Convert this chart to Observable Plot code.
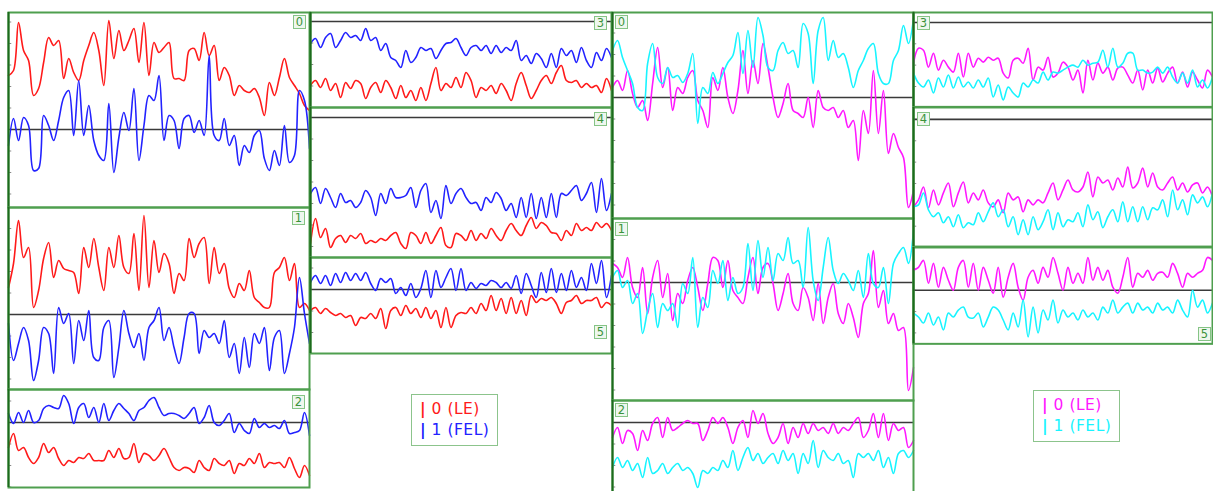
<!DOCTYPE html>
<html><head><meta charset="utf-8">
<script src="https://cdn.jsdelivr.net/npm/d3@7"></script>
<script src="https://cdn.jsdelivr.net/npm/@observablehq/plot@0.6"></script>
<style>
body{margin:0;overflow:hidden;background:#fff}
#root{position:relative;width:1213px;height:491px;overflow:hidden;font-family:"DejaVu Sans",Verdana,sans-serif;background:#fff}
.panel{position:absolute}
.panel svg{display:block;overflow:visible;background:transparent}
.lab{position:absolute;width:11px;height:12px;border:1px solid #86c486;background:#eef7ee;color:#3b933b;font-size:11.5px;line-height:12px;text-align:center}
.legend{position:absolute;border:1px solid #8cc48c;background:#fff;font-size:15.5px;line-height:21px;padding:4px 8px;white-space:pre;letter-spacing:0.5px}
.legend b{font-weight:bold}
</style></head>
<body><div id="root"></div>
<script>
// ---- series values (offset from the reference line) ----
const leftP0Red = [54,59,107,79,69,34,41,67,92,84,89,51,71,57,49,69,84,97,79,44,109,71,99,79,89,101,67,107,54,87,77,82,87,51,51,49,79,81,69,97,74,84,49,62,54,34,44,39,37,41,32,14,47,34,52,71,52,44,36,24,19];
const leftP0Blue = [-16,11,-11,12,4,-41,-39,14,4,-11,9,32,39,-6,49,-6,24,-11,-26,-31,26,-43,-8,17,-1,41,-31,4,34,29,54,-11,14,9,-19,11,14,-3,9,-6,74,-6,-11,11,-16,-6,-36,-16,-23,-6,-1,-29,-41,-21,-36,4,-33,-26,39,29,-19];
const leftP1Red = [27,51,94,57,67,7,24,56,72,37,54,46,44,42,21,67,47,76,47,24,67,47,79,47,41,81,24,99,27,74,42,61,51,21,41,34,76,57,71,77,31,67,41,51,26,17,31,24,44,17,12,7,7,42,47,57,34,51,7,11,4];
const leftP1Blue = [-9,-46,-29,-13,-26,-66,-46,-13,-19,-59,7,-9,1,-49,-6,-26,4,-43,-46,-13,-6,-63,-33,4,-19,-33,-19,-46,-13,-6,7,-26,-13,-33,-49,-23,1,1,-39,-16,-23,-19,-29,-6,-43,-29,-59,-23,-53,-19,-29,-13,-56,-23,-16,-59,-39,-13,37,1,-29];
const leftP2Red = [-25,-11,-28,-25,-35,-41,-35,-21,-30,-25,-36,-43,-38,-40,-35,-36,-31,-38,-38,-38,-28,-35,-26,-36,-35,-21,-40,-31,-33,-38,-33,-26,-35,-45,-48,-45,-46,-50,-38,-45,-48,-36,-41,-43,-38,-51,-41,-43,-36,-41,-31,-45,-40,-41,-40,-45,-35,-46,-55,-43,-53];
const leftP2Blue = [9,-1,10,0,12,0,2,14,17,15,14,27,19,-1,15,19,5,15,0,19,2,12,19,14,9,2,12,15,22,25,15,7,9,9,7,4,9,15,-1,5,17,0,-3,2,9,-10,-1,-8,-11,4,-5,-1,-5,-3,-6,2,-11,-10,-8,10,-13];
const leftP3Red = [-64,-59,-66,-57,-69,-62,-76,-61,-67,-59,-62,-77,-66,-61,-71,-59,-66,-77,-64,-76,-69,-79,-66,-79,-62,-46,-69,-62,-66,-56,-66,-51,-59,-76,-66,-69,-64,-72,-62,-69,-79,-62,-51,-64,-77,-69,-59,-54,-62,-51,-44,-59,-61,-59,-66,-62,-66,-64,-71,-57,-69];
const leftP3Blue = [-22,-17,-26,-16,-12,-26,-19,-11,-16,-14,-19,-7,-19,-16,-29,-22,-36,-39,-46,-29,-41,-36,-26,-29,-27,-37,-29,-22,-21,-17,-26,-34,-26,-24,-29,-24,-32,-24,-31,-26,-29,-19,-39,-34,-42,-32,-37,-46,-32,-46,-27,-34,-29,-41,-26,-39,-46,-31,-39,-27,-36];
const leftP4Red = [-126,-101,-120,-111,-130,-121,-118,-125,-118,-121,-116,-126,-123,-125,-121,-123,-118,-115,-126,-131,-115,-118,-126,-115,-126,-118,-110,-128,-130,-116,-118,-123,-113,-123,-116,-121,-111,-118,-123,-113,-106,-113,-118,-108,-100,-111,-105,-108,-115,-116,-123,-113,-118,-106,-113,-110,-113,-105,-110,-106,-113];
const leftP4Blue = [-76,-70,-86,-71,-80,-90,-76,-85,-83,-90,-85,-73,-80,-98,-76,-86,-71,-80,-80,-78,-70,-90,-73,-66,-95,-83,-101,-68,-86,-76,-71,-80,-86,-85,-93,-80,-85,-75,-81,-93,-86,-100,-80,-100,-76,-101,-80,-100,-76,-100,-76,-78,-73,-68,-83,-76,-65,-95,-61,-93,-76];
const leftP5Red = [-21,-18,-24,-19,-23,-26,-24,-28,-26,-36,-28,-29,-24,-29,-19,-39,-21,-18,-26,-16,-24,-19,-28,-18,-29,-21,-38,-18,-38,-26,-23,-24,-18,-24,-14,-21,-6,-21,-9,-24,-8,-24,-11,-26,-6,-13,-9,-11,-8,-14,-24,-13,-11,-6,-14,-11,-11,-8,-18,-13,-16];
const leftP5Blue = [7,14,6,14,4,16,7,17,9,16,9,17,6,-1,11,7,11,-4,2,-6,6,-8,1,19,-8,19,2,12,21,-1,21,-1,7,1,6,4,9,7,2,7,1,14,-4,16,4,-8,17,-3,21,-3,16,-1,19,2,12,-1,26,6,29,-8,14];

const rightP0Magenta = [10,17,7,27,4,-10,-3,-23,14,50,10,30,-13,10,4,20,27,-3,-13,-30,20,7,30,0,-16,7,47,4,37,14,54,30,0,-20,-6,14,-13,-16,-20,0,-30,7,-10,-13,-10,-20,-13,-30,-23,-63,-13,-36,27,-36,7,-56,-36,-50,-60,-110,-93];
const rightP0Cyan = [47,57,40,27,14,-10,-13,34,54,20,14,30,20,22,15,24,44,-26,10,4,25,14,24,35,42,65,24,67,30,80,62,30,27,47,55,44,47,30,74,64,14,67,80,37,57,40,44,30,10,27,37,49,54,24,14,14,37,47,72,54,79];
const rightP1Magenta = [19,15,5,25,-5,-15,15,-31,5,22,-15,9,-38,-11,-21,2,15,-5,-28,-1,25,22,-5,22,-8,-15,-21,5,25,-11,15,19,-1,-28,-11,9,-21,-28,-5,-15,-38,-1,-41,-15,-1,-31,-41,-21,-35,-55,-21,-11,32,-25,-8,-41,-31,-48,-45,-108,-85];
const rightP1Cyan = [5,12,-5,2,-21,-11,-51,-28,-11,-45,-21,-28,-21,-45,-1,-11,25,-45,-15,-25,12,-1,22,-18,5,-11,-5,39,-8,42,5,35,2,29,22,45,19,22,-5,55,2,-18,15,45,12,-1,9,2,-8,12,-15,29,-1,-5,15,-21,19,29,35,19,52];
const rightP2Magenta = [-15,-5,-21,-8,-11,-28,-8,-18,-1,5,-15,5,-8,-5,-1,2,-1,-1,-18,-8,5,-1,5,-5,-21,-5,2,-15,12,-1,9,-11,-21,-15,-1,-21,-5,-15,-1,-11,-1,-8,-5,-11,-1,-11,-5,-8,-1,5,-15,-8,9,-15,9,-18,-1,-8,-5,-25,-18];
const rightP2Cyan = [-45,-35,-45,-38,-48,-41,-55,-35,-51,-48,-41,-51,-45,-41,-48,-45,-51,-65,-48,-51,-45,-48,-38,-45,-28,-48,-35,-25,-38,-31,-41,-35,-31,-41,-28,-38,-31,-51,-31,-41,-18,-45,-28,-35,-38,-31,-41,-38,-55,-31,-35,-31,-38,-28,-45,-35,-51,-31,-28,-35,-28];
const rightP3Magenta = [-41,-26,-28,-45,-31,-48,-38,-45,-50,-31,-55,-31,-45,-36,-40,-35,-38,-36,-51,-56,-38,-36,-41,-26,-58,-45,-48,-35,-55,-51,-40,-45,-58,-48,-71,-38,-58,-41,-51,-45,-58,-46,-45,-53,-61,-48,-68,-48,-61,-46,-60,-51,-45,-61,-50,-65,-50,-58,-66,-48,-55];
const rightP3Cyan = [-51,-61,-65,-58,-71,-56,-65,-53,-66,-55,-65,-60,-66,-58,-65,-56,-75,-63,-78,-65,-71,-75,-61,-65,-58,-61,-50,-58,-50,-51,-48,-45,-43,-45,-38,-43,-41,-40,-28,-45,-26,-45,-41,-31,-31,-48,-48,-51,-50,-45,-51,-45,-55,-61,-51,-61,-48,-65,-58,-66,-55];
const rightP4Magenta = [-88,-81,-68,-89,-71,-86,-74,-64,-88,-74,-63,-84,-74,-81,-71,-84,-88,-81,-94,-74,-81,-78,-93,-81,-86,-81,-84,-74,-64,-81,-71,-61,-71,-73,-68,-53,-78,-58,-64,-61,-71,-59,-68,-48,-69,-64,-49,-68,-54,-68,-71,-64,-58,-71,-64,-73,-66,-64,-74,-68,-78];
const rightP4Cyan = [-88,-86,-74,-91,-98,-94,-104,-98,-108,-96,-109,-104,-106,-94,-103,-93,-84,-98,-91,-108,-98,-116,-101,-116,-98,-111,-103,-91,-111,-94,-108,-101,-103,-94,-108,-86,-101,-93,-109,-98,-91,-103,-83,-103,-88,-103,-88,-101,-89,-91,-81,-98,-71,-91,-81,-96,-76,-84,-78,-88,-74];
const rightP5Magenta = [20,23,30,7,27,3,23,10,0,23,30,3,27,0,23,10,-3,23,-7,13,27,3,-10,13,20,7,23,13,33,17,0,23,7,17,7,33,10,23,10,20,3,-3,13,33,3,17,13,20,10,17,18,13,27,17,3,17,13,17,20,33,30];
const rightP5Cyan = [-23,-27,-33,-23,-35,-27,-40,-23,-27,-20,-17,-27,-28,-23,-37,-27,-17,-20,-30,-40,-23,-37,-10,-47,-17,-43,-20,-30,-10,-33,-20,-27,-23,-30,-20,-27,-23,-30,-17,-23,-10,-23,-17,-13,-23,-13,-20,-17,-23,-13,-20,-17,-23,-10,-20,-27,0,-17,-10,-23,-13];

const panelLabels = ["0","1","2","3","4","5"];
const seriesNames = ["0 (LE)", "1 (FEL)"];

// ---- layout ----
const RED="#ff1a1a", BLUE="#2222ff", MAG="#ff18ff", CYAN="#18f4ff";
const panels = [
  {left:7,  top:11,  w:303, h:197, dom:[-78,117],  a:leftP0Red, b:leftP0Blue, ca:RED, cb:BLUE, lab:0, lx:286, ly:4},
  {left:7,  top:206, w:303, h:184, dom:[-75,107],  a:leftP1Red, b:leftP1Blue, ca:RED, cb:BLUE, lab:1, lx:285, ly:5},
  {left:7,  top:388, w:303, h:100, dom:[-65,33],   a:leftP2Red, b:leftP2Blue, ca:RED, cb:BLUE, lab:2, lx:285, ly:7},
  {left:309,top:11,  w:303, h:97,  dom:[-86,9],    a:leftP3Red, b:leftP3Blue, ca:RED, cb:BLUE, lab:3, lx:285, ly:5},
  {left:309,top:106, w:303, h:152, dom:[-140,10],  a:leftP4Red, b:leftP4Blue, ca:RED, cb:BLUE, lab:4, lx:285, ly:6},
  {left:309,top:256, w:303, h:98,  dom:[-64,32],   a:leftP5Red, b:leftP5Blue, ca:RED, cb:BLUE, lab:5, lx:285, ly:69},
  {left:611,top:11,  w:303, h:208, dom:[-121,85],  a:rightP0Magenta, b:rightP0Cyan, ca:MAG, cb:CYAN, lab:0, lx:4, ly:4},
  {left:611,top:217, w:303, h:184, dom:[-118,64],  a:rightP1Magenta, b:rightP1Cyan, ca:MAG, cb:CYAN, lab:1, lx:4, ly:5},
  {left:611,top:399, w:303, h:98,  dom:[-74,22],   a:rightP2Magenta, b:rightP2Cyan, ca:MAG, cb:CYAN, lab:2, lx:4, ly:4},
  {left:912,top:11,  w:303, h:97,  dom:[-85,10],   a:rightP3Magenta, b:rightP3Cyan, ca:MAG, cb:CYAN, lab:3, lx:5, ly:5},
  {left:912,top:106, w:303, h:142, dom:[-128,12],  a:rightP4Magenta, b:rightP4Cyan, ca:MAG, cb:CYAN, lab:4, lx:5, ly:6},
  {left:912,top:246, w:303, h:99,  dom:[-54,43],   a:rightP5Magenta, b:rightP5Cyan, ca:MAG, cb:CYAN, lab:5, lx:286, ly:81}
];

const root = document.getElementById("root");
const STEP = 21.5;
for (const p of panels) {
  const n = p.a.length;
  const ticks = d3.range(Math.ceil(p.dom[0]/STEP), Math.floor(p.dom[1]/STEP)+1).map(k => k*STEP);
  const svg = Plot.plot({
    width: p.w, height: p.h, margin: 1,
    style: {background: "transparent", overflow: "visible"},
    x: {domain: [0, n-1], axis: null},
    y: {domain: p.dom, axis: null},
    marks: [
      Plot.ruleY(ticks, {x1: 0, x2: 0.65, stroke: "#8a8a8a", strokeWidth: 1}),
      Plot.ruleY([0], {stroke: "#3a3a3a", strokeWidth: 1.6}),
      Plot.lineY(p.a, {stroke: p.ca, strokeWidth: 1.6, curve: "catmull-rom"}),
      Plot.lineY(p.b, {stroke: p.cb, strokeWidth: 1.6, curve: "catmull-rom"}),
      Plot.frame({stroke: "#4f9f4f", strokeWidth: 2}),
      Plot.ruleX([0], {stroke: "#1d6a1d", strokeWidth: 2})
    ]
  });
  const div = document.createElement("div");
  div.className = "panel";
  div.style.left = p.left + "px";
  div.style.top = p.top + "px";
  div.appendChild(svg);
  root.appendChild(div);
}
for (const p of panels) {
  const l = document.createElement("div");
  l.className = "lab";
  l.textContent = panelLabels[p.lab];
  l.style.left = (p.left + p.lx) + "px";
  l.style.top = (p.top + p.ly) + "px";
  root.appendChild(l);
}
function legend(x, y, ca, cb) {
  const d = document.createElement("div");
  d.className = "legend";
  d.style.left = x + "px";
  d.style.top = y + "px";
  d.innerHTML = `<div style="color:${ca}"><b>|</b> ${seriesNames[0]}</div><div style="color:${cb}"><b>|</b> ${seriesNames[1]}</div>`;
  root.appendChild(d);
}
legend(411, 394, RED, BLUE);
legend(1033, 390, MAG, CYAN);
</script>
</body></html>
